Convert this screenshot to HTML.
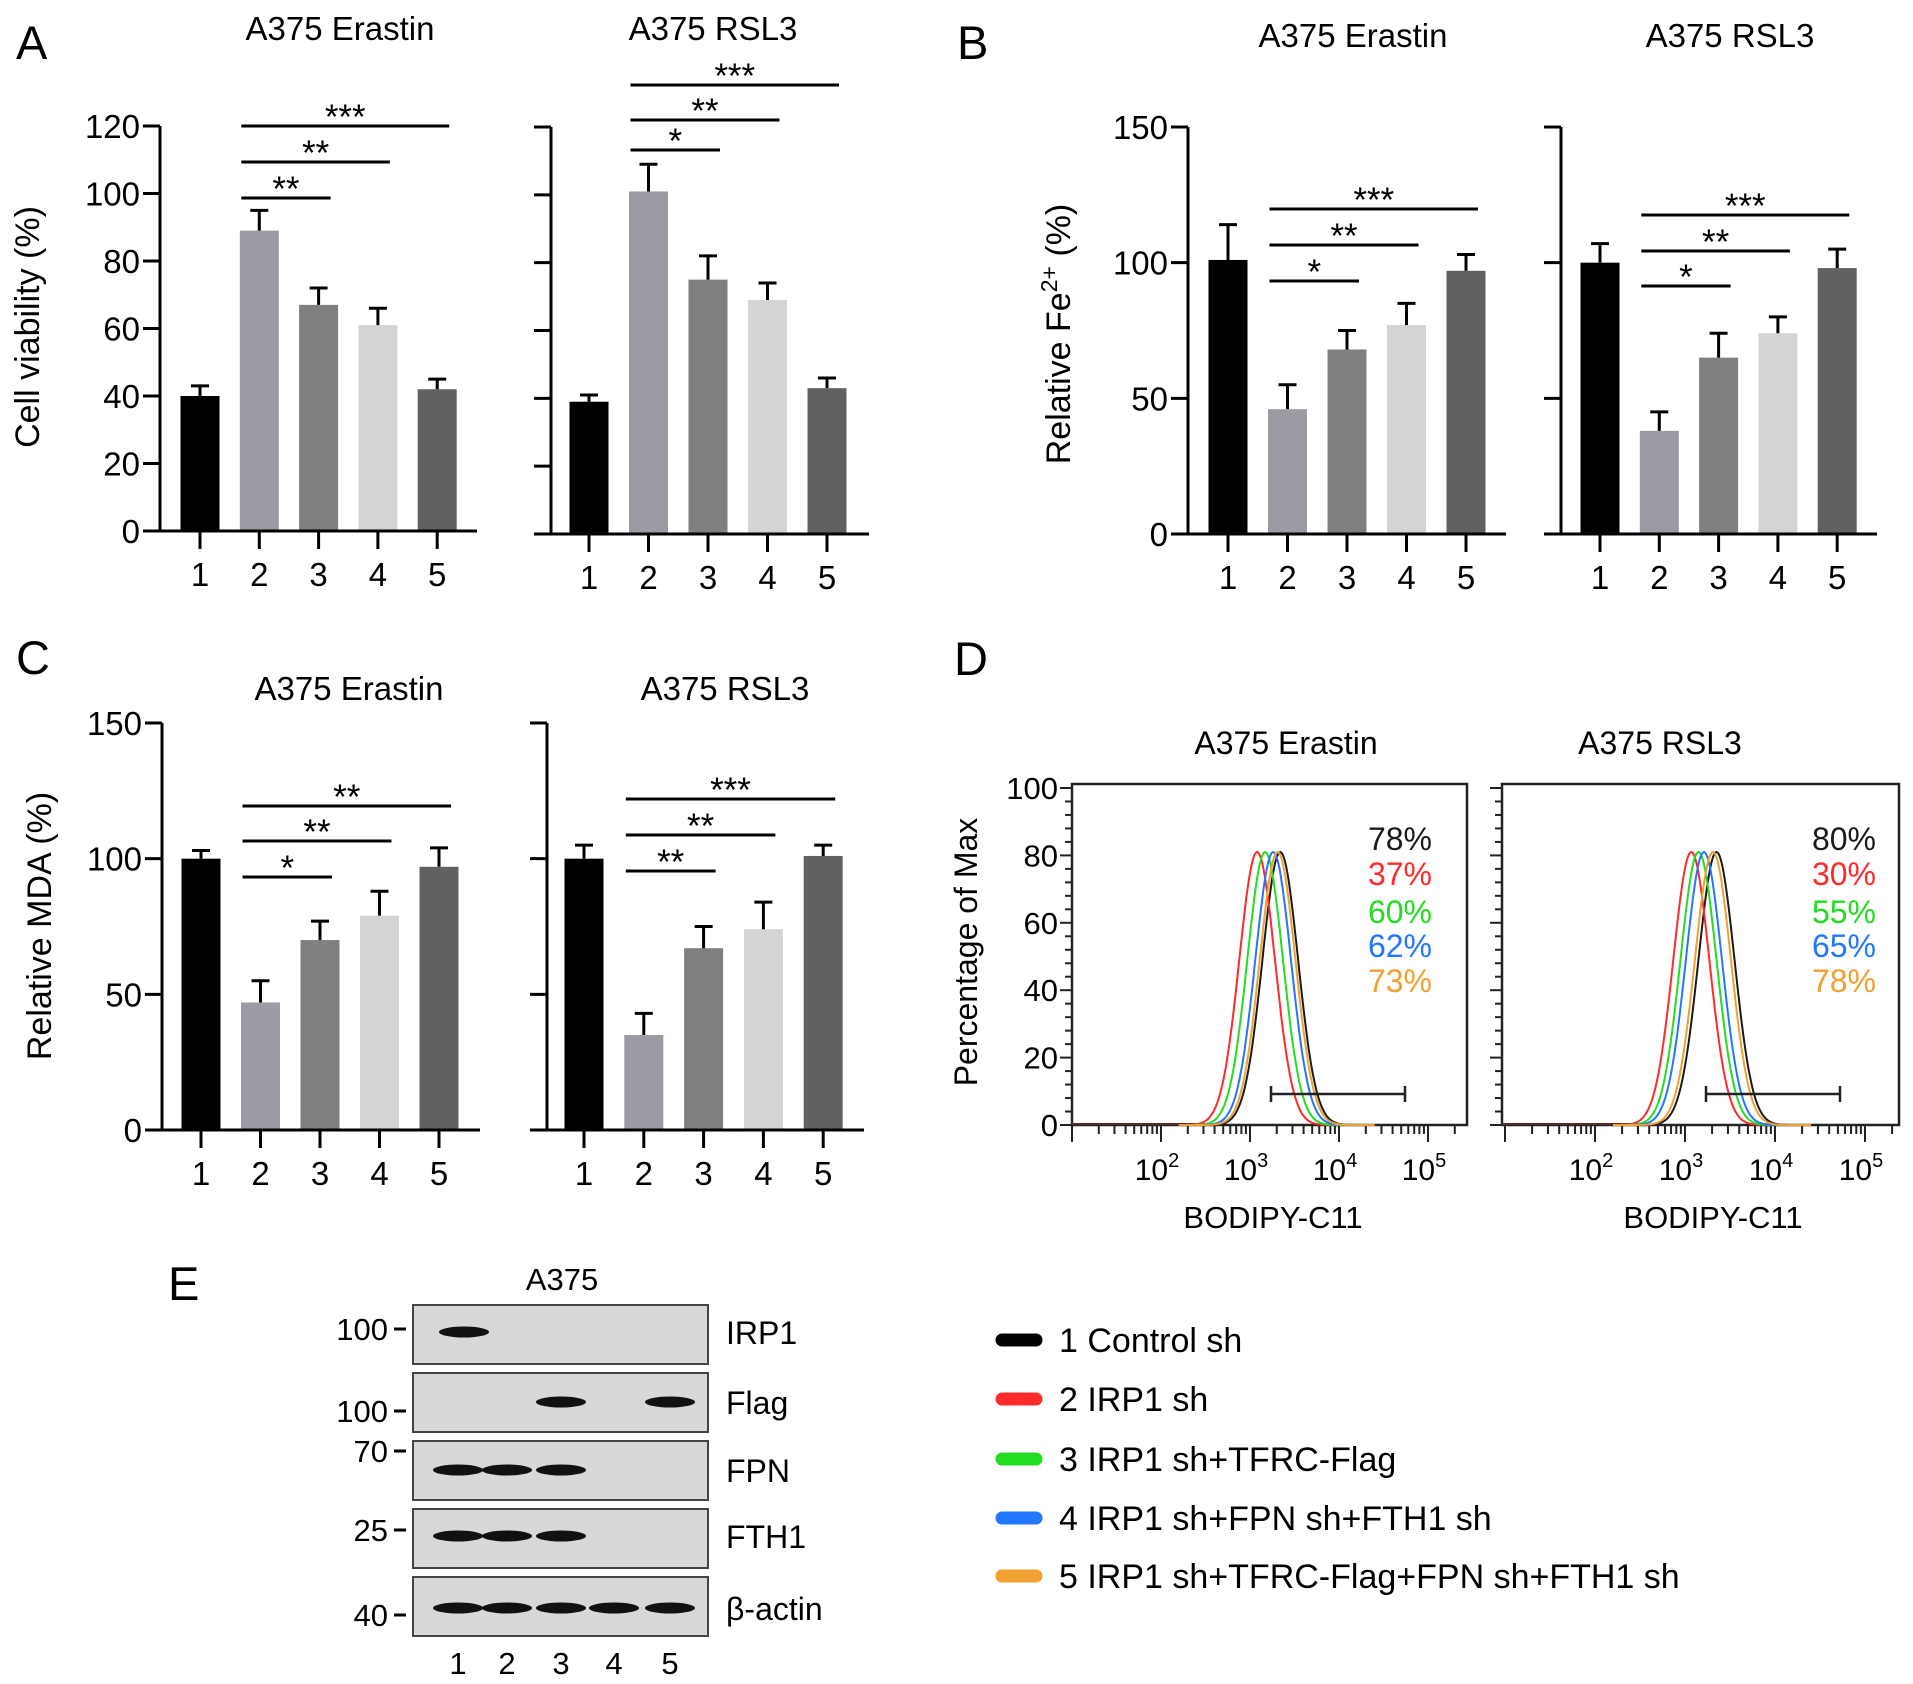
<!DOCTYPE html>
<html><head><meta charset="utf-8"><style>
html,body{margin:0;padding:0;background:#fff}
svg{display:block;font-family:"Liberation Sans",sans-serif}
</style></head><body>
<svg id="fig" xmlns="http://www.w3.org/2000/svg" width="1913" height="1684" viewBox="0 0 1913 1684">
<rect width="1913" height="1684" fill="#fff"/>
<g font-size="47" fill="#000">
<text x="16" y="59">A</text>
<text x="957" y="59">B</text>
<text x="16" y="674">C</text>
<text x="954" y="675">D</text>
<text x="168" y="1300">E</text>
</g>
<g id="bars"></g>
<g id="flow"></g>
<g id="blot"></g>
<g id="legend"></g>
</svg>
<script>
const NS="http://www.w3.org/2000/svg";
// ---- bar chart data ----
const categories=["1","2","3","4","5"];
const barColors=["#000000","#9b9ba3","#7f7f7f","#d4d4d4","#616161"];
const viabErastin=[40,89,67,61,42];
const viabErastinErr=[3,6,5,5,3];
const viabRSL3=[39,101,75,69,43];
const viabRSL3Err=[2,8,7,5,3];
const feErastin=[101,46,68,77,97];
const feErastinErr=[13,9,7,8,6];
const feRSL3=[100,38,65,74,98];
const feRSL3Err=[7,7,9,6,7];
const mdaErastin=[100,47,70,79,97];
const mdaErastinErr=[3,8,7,9,7];
const mdaRSL3=[100,35,67,74,101];
const mdaRSL3Err=[5,8,8,10,4];
const viabTicks=[0,20,40,60,80,100,120];
const pctTicks=[0,50,100,150];
// significance: [fromIndex,toIndex,label]
const sigViabE=[[1,2,"**"],[1,3,"**"],[1,4,"***"]];
const sigViabR=[[1,2,"*"],[1,3,"**"],[1,4,"***"]];
const sigFeE=[[1,2,"*"],[1,3,"**"],[1,4,"***"]];
const sigFeR=[[1,2,"*"],[1,3,"**"],[1,4,"***"]];
const sigMdaE=[[1,2,"*"],[1,3,"**"],[1,4,"**"]];
const sigMdaR=[[1,2,"**"],[1,3,"**"],[1,4,"***"]];
// ---- flow data ----
const flowColors=["#1a1a1a","#ff2a2a","#22dd22","#2277ff","#f0a030"];
const peakErastin=[3.34,3.08,3.17,3.26,3.31];
const peakRSL3=[3.35,3.07,3.15,3.21,3.31];
const peakHeight=[81,81,81,81,81];
const pctErastin=["78%","37%","60%","62%","73%"];
const pctRSL3=["80%","30%","55%","65%","78%"];
const flowYTicks=[0,20,40,60,80,100];
const decades=[2,3,4,5];
// ---- blot / legend ----
const blotRows=["IRP1","Flag","FPN","FTH1","β-actin"];
const blotBands=[[1,0,0,0,0],[0,0,1,0,1],[1,1,1,0,0],[1,1,1,0,0],[1,1,1,1,1]];
const legendLabels=["1 Control sh","2 IRP1 sh","3 IRP1 sh+TFRC-Flag","4 IRP1 sh+FPN sh+FTH1 sh","5 IRP1 sh+TFRC-Flag+FPN sh+FTH1 sh"];

function mk(tag,attrs,parent,txt){const e=document.createElementNS(NS,tag);for(const k in attrs)e.setAttribute(k,attrs[k]);if(txt!==undefined)e.textContent=txt;parent.appendChild(e);return e;}

function barChart(cfg){
  const g=mk("g",{},document.getElementById("bars"));
  
  
  const ys=v=>cfg.y0-(v/cfg.max)*(cfg.y0-cfg.yTop);
  const xs=i=>cfg.x0+i*cfg.step;
  const st={stroke:"#000","stroke-width":3,fill:"none"};
  const t=mk("text",{x:cfg.titleX,y:cfg.titleY,"font-size":33,"text-anchor":"middle"},g,cfg.title);
  
  
  cfg.vals.forEach((v,i)=>{
    const cx=xs(i),top=ys(v),et=ys(v+cfg.err[i]);
    const r=mk("rect",{x:cx-19.5,y:top,width:39,height:cfg.y0-top,fill:barColors[i]},g);
    
    
    const e=mk("path",{d:`M${cx},${top}V${et}M${cx-9},${et}H${cx+9}`,stroke:"#000","stroke-width":3,fill:"none"},g);
    
    
  });
  const ya=mk("line",Object.assign({x1:cfg.axisX,x2:cfg.axisX,y1:cfg.yTop,y2:cfg.y0},st),g);
  
  
  const xa=mk("line",Object.assign({x1:cfg.axisX-17,x2:cfg.xEnd,y1:cfg.y0,y2:cfg.y0},st),g);
  
  
  cfg.ticks.forEach(tv=>{
    const y=ys(tv);
    mk("line",Object.assign({x1:cfg.axisX-17,x2:cfg.axisX,y1:y,y2:y},st),g);
    if(cfg.labels){
      const tl=mk("text",{x:cfg.axisX-20,y:y+12,"font-size":33,"text-anchor":"end"},g,String(tv));
      
      
    }
  });
  categories.forEach((c,i)=>{
    const cx=xs(i);
    mk("line",Object.assign({x1:cx,x2:cx,y1:cfg.y0,y2:cfg.y0+18},st),g);
    const xl=mk("text",{x:cx,y:cfg.y0+55,"font-size":33,"text-anchor":"middle"},g,c);
    
    
  });
  cfg.sig.forEach((s,k)=>{
    const y=cfg.sigY[k];
    const x1=xs(s[0])-18,x2=xs(s[1])+12;
    const l=mk("line",{x1:x1,x2:x2,y1:y,y2:y,stroke:"#000","stroke-width":3},g);
    
    
    const tx=mk("text",{x:(x1+x2)/2,y:y+3,"font-size":35,"text-anchor":"middle"},g,s[2]);
    
    
  });
}
barChart({name:"viability-erastin-chart",title:"A375 Erastin",titleX:340,titleY:40,axisX:160,y0:531,yTop:126,max:120,ticks:viabTicks,labels:true,x0:200,step:59.3,xEnd:477,vals:viabErastin,err:viabErastinErr,sig:sigViabE,sigY:[198,162,126]});
barChart({name:"viability-rsl3-chart",title:"A375 RSL3",titleX:713,titleY:40,axisX:551,y0:534,yTop:127,max:120,ticks:viabTicks,labels:false,x0:589,step:59.5,xEnd:869,vals:viabRSL3,err:viabRSL3Err,sig:sigViabR,sigY:[150,120,85]});
barChart({name:"fe-erastin-chart",title:"A375 Erastin",titleX:1353,titleY:47,axisX:1188,y0:534,yTop:127,max:150,ticks:pctTicks,labels:true,x0:1228,step:59.5,xEnd:1506,vals:feErastin,err:feErastinErr,sig:sigFeE,sigY:[281,245,209]});
barChart({name:"fe-rsl3-chart",title:"A375 RSL3",titleX:1730,titleY:47,axisX:1561,y0:534,yTop:127,max:150,ticks:pctTicks,labels:false,x0:1600,step:59.3,xEnd:1877,vals:feRSL3,err:feRSL3Err,sig:sigFeR,sigY:[286,251,215]});
barChart({name:"mda-erastin-chart",title:"A375 Erastin",titleX:349,titleY:700,axisX:162,y0:1130,yTop:723,max:150,ticks:pctTicks,labels:true,x0:201,step:59.5,xEnd:480,vals:mdaErastin,err:mdaErastinErr,sig:sigMdaE,sigY:[877,841,806]});
barChart({name:"mda-rsl3-chart",title:"A375 RSL3",titleX:725,titleY:700,axisX:547,y0:1130,yTop:723,max:150,ticks:pctTicks,labels:false,x0:584,step:59.8,xEnd:864,vals:mdaRSL3,err:mdaRSL3Err,sig:sigMdaR,sigY:[871,835,799]});

(function(){
  const g=document.getElementById("bars");
  const a=mk("text",{transform:"translate(39,327) rotate(-90)","font-size":34,"text-anchor":"middle"},g,"Cell viability (%)");
  
  
  const b=mk("text",{transform:"translate(1070,334) rotate(-90)","font-size":34,"text-anchor":"middle"},g);
  
  
  b.appendChild(document.createTextNode("Relative Fe"));
  mk("tspan",{dy:-13,"font-size":23},b,"2+");
  mk("tspan",{dy:13},b," (%)");
  const c=mk("text",{transform:"translate(51,926) rotate(-90)","font-size":34,"text-anchor":"middle"},g,"Relative MDA (%)");
  
  
})();

function flow(cfg){
  const g=mk("g",{},document.getElementById("flow"));
  
  
  const X=l=>cfg.x3+(l-3)*cfg.dec;
  const Y=v=>1125-v*3.37;
  const t=mk("text",{x:cfg.titleX,y:754,"font-size":32,"text-anchor":"middle"},g,cfg.title);
  
  
  const box=mk("rect",{x:cfg.left,y:784,width:cfg.right-cfg.left,height:1125-784,fill:"none",stroke:"#222","stroke-width":2.5},g);
  
  
  for(let v=0;v<=100;v+=4){
    const y=Y(v),major=v%20===0;
    mk("line",{x1:cfg.left-(major?12:7),x2:cfg.left,y1:y,y2:y,stroke:"#222","stroke-width":2},g);
  }
  if(cfg.labels){flowYTicks.forEach(v=>{
    const tl=mk("text",{x:cfg.left-14,y:Y(v)+11,"font-size":31,"text-anchor":"end"},g,String(v));
    
    
  });}
  for(let d=1;d<=5;d++){for(let k=1;k<=9;k++){
    const l=d+Math.log10(k),x=X(l);
    if(x<cfg.left||x>cfg.right)continue;
    mk("line",{x1:x,x2:x,y1:1126,y2:1126+(k===1?16:8),stroke:"#222","stroke-width":2},g);
  }}
  decades.forEach(d=>{
    const tl=mk("text",{x:X(d)-4,y:1180,"font-size":30,"text-anchor":"middle"},g);
    
    
    tl.appendChild(document.createTextNode("10"));
    mk("tspan",{dy:-13,"font-size":20},tl,String(d));
  });
  const xt=mk("text",{x:cfg.xLabelX,y:1228,"font-size":31,"text-anchor":"middle"},g,"BODIPY-C11");
  
  
  mk("line",{x1:cfg.left,x2:X(2.5),y1:1124,y2:1124,stroke:"#5a2a2a","stroke-width":2},g);
  cfg.peaks.forEach((mu,i)=>{
    let d="";
    for(let l=2.2;l<=4.4;l+=0.01){
      const v=peakHeight[i]*Math.exp(-Math.pow(l-mu,2)/(2*0.2*0.2));
      d+=(d?"L":"M")+X(l).toFixed(1)+","+Y(v).toFixed(1);
    }
    const p=mk("path",{d:d,fill:"none",stroke:flowColors[i],"stroke-width":2},g);
    
    
  });
  const gy=1094;
  const gt=mk("path",{d:`M${cfg.g1},${gy}H${cfg.g2}M${cfg.g1},${gy-8}V${gy+8}M${cfg.g2},${gy-8}V${gy+8}`,stroke:"#222","stroke-width":2.5,fill:"none"},g);
  
  
  const pys=[850,885,923,957,992];
  cfg.pct.forEach((p,i)=>{
    const tx=mk("text",{x:cfg.pctX,y:pys[i],"font-size":32,"text-anchor":"end",fill:flowColors[i]},g,p);
    
    
  });
}
flow({name:"flow-erastin",title:"A375 Erastin",titleX:1286,left:1072,right:1467,x3:1250,dec:89,labels:true,xLabelX:1273,peaks:peakErastin,pct:pctErastin,pctX:1432,g1:1271,g2:1405});
flow({name:"flow-rsl3",title:"A375 RSL3",titleX:1660,left:1502,right:1899,x3:1685,dec:90,labels:false,xLabelX:1713,peaks:peakRSL3,pct:pctRSL3,pctX:1876,g1:1706,g2:1840});
(function(){
  const t=mk("text",{transform:"translate(977,952) rotate(-90)","font-size":32,"text-anchor":"middle"},document.getElementById("flow"),"Percentage of Max");
  
  
})();

(function(){
  const g=document.getElementById("blot");
  const t=mk("text",{x:562,y:1290,"font-size":31,"text-anchor":"middle"},g,"A375");
  
  
  const rowTop=[1305,1373,1441,1509,1577];
  const bandY=[1332,1402,1470,1536,1608];
  const laneX=[458,507,561,614,670];
  blotRows.forEach((name,r)=>{
    const box=mk("rect",{x:413,y:rowTop[r],width:295,height:59,fill:"#d8d8d8",stroke:"#444","stroke-width":2},g);
    
    
    blotBands[r].forEach((b,i)=>{
      if(!b)return;
      const e=mk("ellipse",{cx:laneX[i]+(r===0?6:0),cy:bandY[r],rx:25,ry:5.5,fill:"#111"},g);
      
      
    });
    const lbl=mk("text",{x:726,y:bandY[r]+12,"font-size":32},g,name);
    
    
  });
  const mw=[["100",1329],["100",1411],["70",1451],["25",1530],["40",1615]];
  mw.forEach(m=>{
    const tx=mk("text",{x:388,y:m[1]+11,"font-size":31,"text-anchor":"end"},g,m[0]);
    
    
    mk("line",{x1:394,x2:406,y1:m[1],y2:m[1],stroke:"#000","stroke-width":3},g);
  });
  categories.forEach((c,i)=>{
    const tx=mk("text",{x:laneX[i],y:1674,"font-size":31,"text-anchor":"middle"},g,c);
    
    
  });
})();

(function(){
  const g=document.getElementById("legend");
  
  
  const rows=[1340,1399,1459,1518,1576];
  legendLabels.forEach((l,i)=>{
    const s=mk("line",{x1:1002,x2:1036,y1:rows[i],y2:rows[i],stroke:flowColors[i]==="#1a1a1a"?"#000":flowColors[i],"stroke-width":13,"stroke-linecap":"round"},g);
    
    
    const t=mk("text",{x:1059,y:rows[i]+12,"font-size":34},g,l);
    
    
  });
})();
</script>
</body></html>
